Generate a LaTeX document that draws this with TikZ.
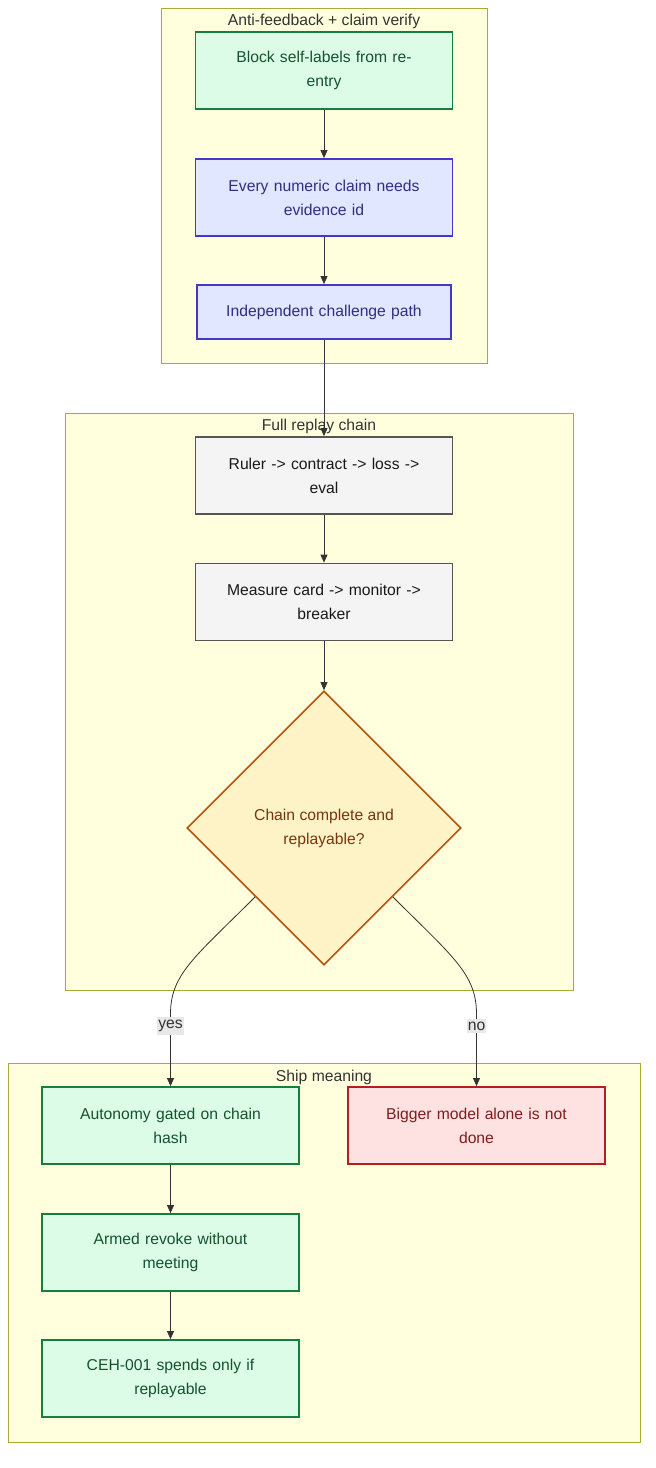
\documentclass[tikz,border=0pt]{standalone}
\usepackage{fontspec}
\setmainfont{Liberation Sans}
\usepackage{tikz}
\usetikzlibrary{shapes, shapes.geometric, arrows.meta, positioning, calc}
\definecolor{clfill}{HTML}{FFFFDE}
\definecolor{cldraw}{HTML}{AAAA33}
\definecolor{grfill}{HTML}{DCFCE7}
\definecolor{grdraw}{HTML}{15803D}
\definecolor{grtext}{HTML}{14532D}
\definecolor{blfill}{HTML}{E0E7FF}
\definecolor{bldraw}{HTML}{4338CA}
\definecolor{bltext}{HTML}{312E81}
\definecolor{gyfill}{HTML}{F4F4F4}
\definecolor{gydraw}{HTML}{555555}
\definecolor{ywfill}{HTML}{FEF3C7}
\definecolor{ywdraw}{HTML}{B45309}
\definecolor{ywtext}{HTML}{78350F}
\definecolor{rdfill}{HTML}{FEE2E2}
\definecolor{rddraw}{HTML}{B91C1C}
\definecolor{rdtext}{HTML}{7F1D1D}
\definecolor{edgecol}{HTML}{333333}
\tikzstyle{process} = [rectangle, minimum width=257pt, minimum height=77pt, text width=240pt, align=center, inner sep=0pt, line width=1.8pt, font=\fontsize{15.7}{24}\selectfont]
\tikzstyle{green} = [process, draw=grdraw, fill=grfill, text=grtext]
\tikzstyle{blue} = [process, draw=bldraw, fill=blfill, text=bltext]
\tikzstyle{gray} = [process, draw=gydraw, fill=gyfill, text=black!90]
\tikzstyle{red} = [process, draw=rddraw, fill=rdfill, text=rdtext]
\tikzstyle{decision} = [diamond, minimum width=274pt, minimum height=274pt, inner sep=0pt, align=center, line width=1.6pt, draw=ywdraw, fill=ywfill, text=ywtext, font=\fontsize{15.7}{24}\selectfont]
\tikzstyle{cluster} = [draw=cldraw, fill=clfill, line width=0.8pt]
\tikzstyle{cltitle} = [text=edgecol, yshift=-2pt, font=\fontsize{15.7}{20}\selectfont]
\tikzstyle{edge} = [draw=edgecol, line width=0.8pt, -{Triangle[length=8pt, width=7pt]}]
\tikzstyle{lbl} = [fill=black!9, text=edgecol, inner xsep=1pt, inner ysep=3pt, font=\fontsize{15.7}{20}\selectfont]

\begin{document}
\begin{tikzpicture}[x=1pt, y=-1pt]
\useasboundingbox (0,0) rectangle (656,1468);
% subgraphs
\draw[cluster] (161,8) rectangle (487,363);
\node (t1) [cltitle] at (324,19) {Anti-feedback + claim verify};
\draw[cluster] (65,413) rectangle (573,990);
\node (t2) [cltitle] at (319,424) {Full replay chain};
\draw[cluster] (8,1063) rectangle (640,1442);
\node (t3) [cltitle] at (324,1075) {Ship meaning};

% anti-feedback
\node (a1) [green] at (324,70.5) {Block self-labels from re-\\entry};
\node (a2) [blue] at (324,197.5) {Every numeric claim needs\\evidence id};
\node (a3) [blue, minimum width=254pt, minimum height=54pt] at (324,312) {Independent challenge path};

% replay chain
\node (b1) [gray] at (324,475.5) {Ruler -> contract -> loss ->\\eval};
\node (b2) [gray] at (324,602) {Measure card -> monitor ->\\breaker};
\node (chk) [decision] at (324,828) {Chain complete and\\replayable?};

% ship meaning
\node (c1) [green] at (170.5,1125.5) {Autonomy gated on chain\\hash};
\node (c2) [green] at (170.5,1252.5) {Armed revoke without\\meeting};
\node (c3) [green] at (170.5,1378.5) {CEH-001 spends only if\\replayable};
\node (d1) [red] at (476.5,1125.5) {Bigger model alone is not\\done};

\draw[edge] (a1) -- (a2);
\draw[edge] (a2) -- (a3);
\draw[edge] (a3) -- (b1);
\draw[edge] (b1) -- (b2);
\draw[edge] (b2) -- (chk);
\coordinate (yb) at (170.5,1014);
\coordinate (nb) at (476.5,1014);
\draw[edge] (chk.south west) .. controls +(-60,60) and +(0,-40) .. (yb) -- (c1);
\draw[edge] (chk.south east) .. controls +(60,60) and +(0,-40) .. (nb) -- (d1);
\node (yes) [lbl] at (170.5,1026) {yes};
\node (no) [lbl] at (476.5,1026) {no};
\draw[edge] (c1) -- (c2);
\draw[edge] (c2) -- (c3);
\end{tikzpicture}
\end{document}
